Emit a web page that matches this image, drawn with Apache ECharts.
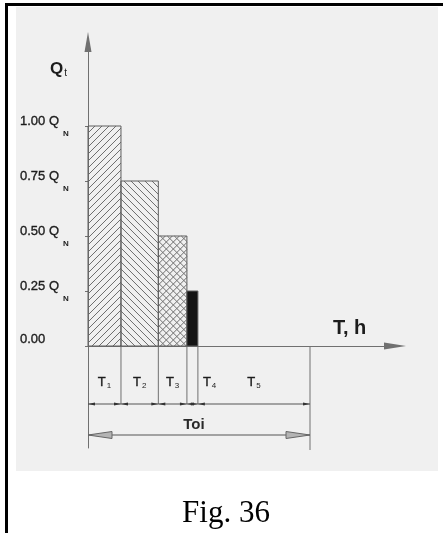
<!DOCTYPE html>
<html>
<head>
<meta charset="utf-8">
<script src="https://cdn.jsdelivr.net/npm/echarts@6/dist/echarts.min.js"></script>
<style>
  html, body { margin: 0; padding: 0; background: #ffffff; }
  #chart { width: 444px; height: 533px; }
</style>
</head>
<body>
<div id="chart"></div>
<script>
// Load schedule: share of nominal flow Q_N held during each period T1..T5
const periodLabels = ['T1', 'T2', 'T3', 'T4', 'T5'];
const durationsH = [3.0, 3.4, 2.6, 1.0, 10.2];
const loadShare = [1.00, 0.75, 0.50, 0.25, 0.00];
const yTickValues = [0, 0.25, 0.5, 0.75, 1.0];
const totalLabel = 'Toi';
const xAxisTitle = 'T, h';
const figureCaption = 'Fig. 36';

// Cumulative start/end of every period on the time axis
const segStart = [];
const segEnd = [];
durationsH.reduce(function (acc, d) { segStart.push(acc); segEnd.push(acc + d); return acc + d; }, 0);
const totalH = segEnd[segEnd.length - 1];

// Frame geometry (pixels)
const AXIS_LEFT = 88, AXIS_RIGHT = 395, AXIS_TOP = 42, ZERO_Y = 346, BOTTOM_Y = 448, UNIT_PX = 220;
const yMax = (ZERO_Y - AXIS_TOP) / UNIT_PX;
const yMin = -(BOTTOM_Y - ZERO_Y) / UNIT_PX;
const xMax = totalH * (AXIS_RIGHT - AXIS_LEFT) / 222;

const INK = '#1c1c1c';
const LINE = '#707070';
const HATCH = '#6e6e6e';
const FILLS = ['fwd', 'back', 'cross', 'solid', 'none'];
const HATCH_STEP = 7;
const BOLDISH = { textBorderColor: INK, textBorderWidth: 0.35 };

function hatchLines(x0, y0, x1, y1, dir) {
  const out = [];
  if (dir === 'fwd') {           // "/" lines: x + y = c
    for (let c = x0 + y0; c <= x1 + y1; c += HATCH_STEP) {
      const xa = Math.max(x0, c - y1), xb = Math.min(x1, c - y0);
      if (xb - xa > 0.5) out.push([xa, c - xa, xb, c - xb]);
    }
  } else {                       // "\" lines: x - y = c
    for (let c = x0 - y1; c <= x1 - y0; c += HATCH_STEP) {
      const xa = Math.max(x0, c + y0), xb = Math.min(x1, c + y1);
      if (xb - xa > 0.5) out.push([xa, xa - c, xb, xb - c]);
    }
  }
  return out.map(function (l) {
    return { type: 'line', shape: { x1: l[0], y1: l[1], x2: l[2], y2: l[3] },
             style: { stroke: HATCH, lineWidth: 1 } };
  });
}

function renderBar(params, api) {
  const s = api.value(0), e = api.value(1), v = api.value(2), idx = api.value(3);
  if (!(v > 0)) return null;
  const p0 = api.coord([s, v]);
  const p1 = api.coord([e, 0]);
  const x0 = p0[0], y0 = p0[1], x1 = p1[0], y1 = p1[1];
  const kind = FILLS[idx];
  let children = [];
  if (kind === 'solid') {
    children.push({ type: 'rect', shape: { x: x0, y: y0, width: x1 - x0, height: y1 - y0 },
                    style: { fill: '#141414' } });
  } else {
    if (kind === 'fwd' || kind === 'cross') children = children.concat(hatchLines(x0, y0, x1, y1, 'fwd'));
    if (kind === 'back' || kind === 'cross') children = children.concat(hatchLines(x0, y0, x1, y1, 'back'));
  }
  children.push({ type: 'rect', shape: { x: x0, y: y0, width: x1 - x0, height: y1 - y0 },
                  style: { fill: 'none', stroke: '#5e5e5e', lineWidth: 1 } });
  return { type: 'group', children: children };
}

// Extension lines, period names and the small dimension line under the axis
function renderPeriod(params, api) {
  const s = api.value(0), e = api.value(1), idx = api.value(2);
  const pS = api.coord([s, 0]);
  const pE = api.coord([e, 0]);
  const y0 = pS[1];
  const dimY = y0 + 58;
  const isLast = idx === periodLabels.length - 1;
  const children = [];
  // right-hand extension line of this period
  children.push({ type: 'line', shape: { x1: pE[0], y1: y0, x2: pE[0], y2: isLast ? y0 + 104 : dimY },
                  style: { stroke: LINE, lineWidth: 1 } });
  // dimension line segment with tiny arrowheads at both ends
  children.push({ type: 'line', shape: { x1: pS[0], y1: dimY, x2: pE[0], y2: dimY },
                  style: { stroke: '#555', lineWidth: 1 } });
  children.push({ type: 'polygon', shape: { points: [[pS[0], dimY], [pS[0] + 7, dimY - 1.5], [pS[0] + 7, dimY + 1.5]] },
                  style: { fill: '#333' } });
  children.push({ type: 'polygon', shape: { points: [[pE[0], dimY], [pE[0] - 7, dimY - 1.5], [pE[0] - 7, dimY + 1.5]] },
                  style: { fill: '#333' } });
  // period name T with subscript number
  const name = periodLabels[idx];
  const narrow = (pE[0] - pS[0]) < 18;
  children.push({
    type: 'text',
    x: narrow ? pE[0] + 5 : (pS[0] + pE[0]) / 2,
    y: y0 + 37,
    style: {
      text: '{t|' + name.charAt(0) + '}{s|' + name.slice(1) + '}',
      align: narrow ? 'left' : 'center',
      verticalAlign: 'middle',
      rich: {
        t: { fontSize: 13, fontFamily: 'Liberation Sans', fill: INK, stroke: INK, lineWidth: 0.35, verticalAlign: 'top' },
        s: { fontSize: 8, fontFamily: 'Liberation Sans', fill: INK, padding: [6, 0, 0, 1], verticalAlign: 'bottom' }
      }
    }
  });
  return { type: 'group', children: children };
}

// Overall duration Toi with its double arrow
function renderTotal(params, api) {
  const pS = api.coord([api.value(0), 0]);
  const pE = api.coord([api.value(1), 0]);
  const y = pS[1] + 89;
  const L = 24, H = 3.5;
  const arrowStyle = { fill: '#b4b4b4', stroke: '#666', lineWidth: 1 };
  return {
    type: 'group',
    children: [
      { type: 'line', shape: { x1: pS[0], y1: y, x2: pE[0], y2: y }, style: { stroke: '#555', lineWidth: 1 } },
      { type: 'polygon', shape: { points: [[pS[0], y], [pS[0] + L, y - H], [pS[0] + L, y + H]] }, style: arrowStyle },
      { type: 'polygon', shape: { points: [[pE[0], y], [pE[0] - L, y - H], [pE[0] - L, y + H]] }, style: arrowStyle },
      { type: 'text', x: (pS[0] + pE[0]) / 2 - 5, y: y - 10,
        style: { text: totalLabel, align: 'center', verticalAlign: 'middle',
                 fontSize: 15, fontWeight: 'bold', fontFamily: 'Liberation Sans', fill: '#2a2a2a' } }
    ]
  };
}

const barData = loadShare.map(function (v, i) { return [segStart[i], segEnd[i], v, i]; });
const periodData = durationsH.map(function (d, i) { return [segStart[i], segEnd[i], i]; });

const chart = echarts.init(document.getElementById('chart'), null, { renderer: 'canvas' });
chart.setOption({
  animation: false,
  backgroundColor: '#ffffff',
  graphic: [
    { type: 'rect', z: -10, shape: { x: 16, y: 7, width: 422, height: 464 }, style: { fill: '#f0f0f0' } },
    { type: 'rect', z: 10, shape: { x: 5, y: 3, width: 3, height: 530 }, style: { fill: '#000' } },
    { type: 'rect', z: 10, shape: { x: 5, y: 3, width: 438, height: 3 }, style: { fill: '#000' } },
    { type: 'text', z: 10, x: 226, y: 514,
      style: { text: figureCaption, align: 'center', verticalAlign: 'middle',
               fontSize: 31, fontFamily: 'Liberation Serif', fill: '#000' } }
  ],
  grid: { left: AXIS_LEFT, right: 444 - AXIS_RIGHT, top: AXIS_TOP, bottom: 533 - BOTTOM_Y, containLabel: false },
  xAxis: {
    type: 'value', min: 0, max: xMax,
    name: xAxisTitle, nameLocation: 'end', nameGap: -62,
    nameTextStyle: { fontSize: 20, fontWeight: 'bold', fontFamily: 'Liberation Sans', color: INK,
                     align: 'left', verticalAlign: 'bottom', padding: [0, 0, 8, 0] },
    axisLine: { onZero: true, symbol: ['none', 'triangle'], symbolSize: [7, 22],
                lineStyle: { color: LINE, width: 1 } },
    axisTick: { show: false }, axisLabel: { show: false }, splitLine: { show: false }
  },
  yAxis: {
    type: 'value', min: yMin, max: yMax,
    name: '{q|Q}{t|t}', nameLocation: 'end', nameGap: -36,
    nameTextStyle: { align: 'right', verticalAlign: 'bottom', padding: [0, 21, 0, 0],
      rich: {
        q: { fontSize: 17, fontWeight: 'bold', fontFamily: 'Liberation Sans', color: INK, verticalAlign: 'top' },
        t: { fontSize: 10, fontFamily: 'Liberation Sans', color: INK, padding: [6, 0, 0, 1], verticalAlign: 'bottom' }
      } },
    axisLine: { symbol: ['none', 'triangle'], symbolSize: [7, 20], lineStyle: { color: LINE, width: 1 } },
    axisTick: { show: true, customValues: yTickValues, length: 3, lineStyle: { color: LINE } },
    axisLabel: {
      customValues: yTickValues, align: 'left', margin: 68,
      formatter: function (v) {
        if (v === 0) return '{z|0.00}';
        return '{a|' + v.toFixed(2) + ' Q}{n|N}';
      },
      rich: {
        z: Object.assign({ fontSize: 13, fontFamily: 'Liberation Sans', color: INK, padding: [0, 0, 14, 0] }, BOLDISH),
        a: Object.assign({ fontSize: 13, fontFamily: 'Liberation Sans', color: INK, verticalAlign: 'top' }, BOLDISH),
        n: { fontSize: 8, fontWeight: 'bold', fontFamily: 'Liberation Sans', color: INK,
             padding: [15, 0, 0, 4], verticalAlign: 'bottom' }
      }
    },
    splitLine: { show: false }
  },
  series: [
    { type: 'custom', name: 'load', renderItem: renderBar, data: barData,
      encode: { x: [0, 1], y: 2 }, clip: false, z: 3 },
    { type: 'custom', name: 'periods', renderItem: renderPeriod, data: periodData,
      encode: { x: [0, 1] }, clip: false, z: 2 },
    { type: 'custom', name: 'total', renderItem: renderTotal, data: [[0, totalH]],
      encode: { x: [0, 1] }, clip: false, z: 2 }
  ]
});
</script>
</body>
</html>
